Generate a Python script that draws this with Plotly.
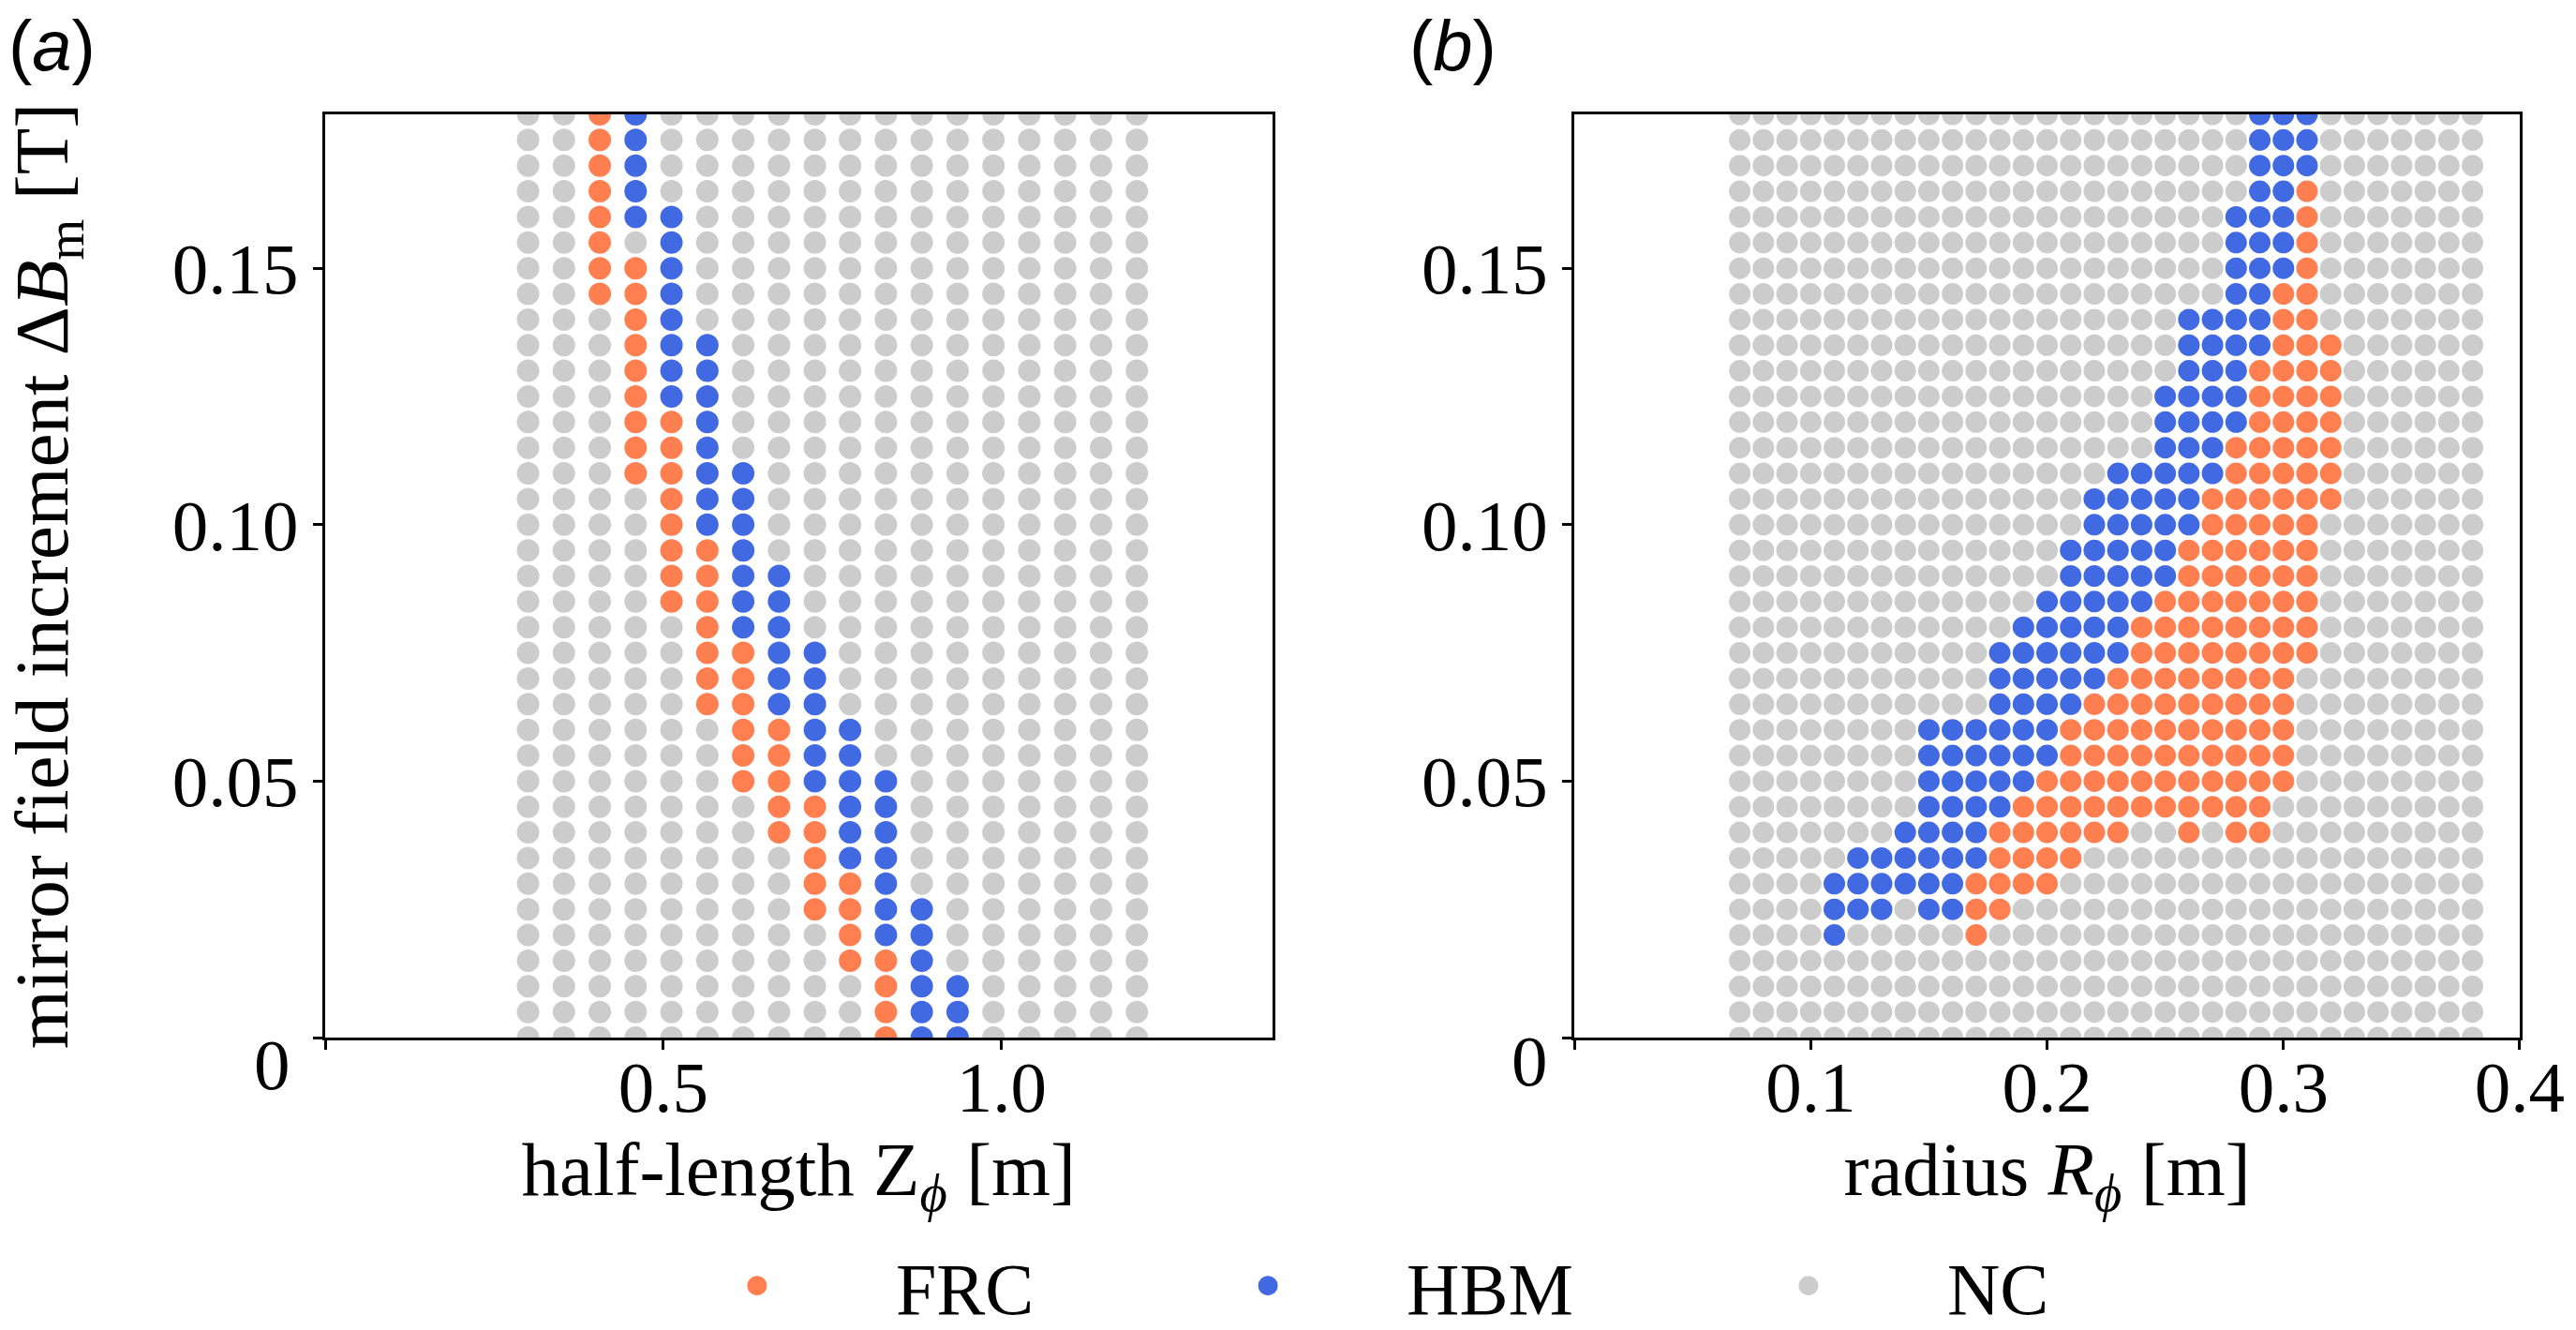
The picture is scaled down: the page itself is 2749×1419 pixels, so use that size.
import plotly.graph_objects as go

# ---------------- data ----------------
# mirror field increment Delta B_m [T], grid rows from top to bottom
DELTA_BM = [0.180, 0.175, 0.170, 0.165, 0.160, 0.155, 0.150, 0.145, 0.140, 0.135,
            0.130, 0.125, 0.120, 0.115, 0.110, 0.105, 0.100, 0.095, 0.090, 0.085,
            0.080, 0.075, 0.070, 0.065, 0.060, 0.055, 0.050, 0.045, 0.040, 0.035,
            0.030, 0.025, 0.020, 0.015, 0.010, 0.005, 0.000]

# panel (a): half-length Z_phi [m] grid columns
Z_PHI = [0.300, 0.353, 0.406, 0.459, 0.512, 0.565, 0.618, 0.671, 0.724,
         0.776, 0.829, 0.882, 0.935, 0.988, 1.041, 1.094, 1.147, 1.200]

# panel (b): radius R_phi [m] grid columns
R_PHI = [0.07, 0.08, 0.09, 0.10, 0.11, 0.12, 0.13, 0.14, 0.15, 0.16, 0.17,
         0.18, 0.19, 0.20, 0.21, 0.22, 0.23, 0.24, 0.25, 0.26, 0.27, 0.28,
         0.29, 0.30, 0.31, 0.32, 0.33, 0.34, 0.35, 0.36, 0.37, 0.38]

# phase of each grid point: F = FRC, H = HBM, N = NC (rows follow DELTA_BM)
PHASE_A = [
    "NNFHNNNNNN NNNNNNNN",  # 0.180
    "NNFHNNNNNN NNNNNNNN",  # 0.175
    "NNFHNNNNNN NNNNNNNN",  # 0.170
    "NNFHNNNNNN NNNNNNNN",  # 0.165
    "NNFHHNNNNN NNNNNNNN",  # 0.160
    "NNFNHNNNNN NNNNNNNN",  # 0.155
    "NNFFHNNNNN NNNNNNNN",  # 0.150
    "NNFFHNNNNN NNNNNNNN",  # 0.145
    "NNNFHNNNNN NNNNNNNN",  # 0.140
    "NNNFHHNNNN NNNNNNNN",  # 0.135
    "NNNFHHNNNN NNNNNNNN",  # 0.130
    "NNNFHHNNNN NNNNNNNN",  # 0.125
    "NNNFFHNNNN NNNNNNNN",  # 0.120
    "NNNFFHNNNN NNNNNNNN",  # 0.115
    "NNNFFHHNNN NNNNNNNN",  # 0.110
    "NNNNFHHNNN NNNNNNNN",  # 0.105
    "NNNNFHHNNN NNNNNNNN",  # 0.100
    "NNNNFFHNNN NNNNNNNN",  # 0.095
    "NNNNFFHHNN NNNNNNNN",  # 0.090
    "NNNNFFHHNN NNNNNNNN",  # 0.085
    "NNNNNFHHNN NNNNNNNN",  # 0.080
    "NNNNNFFHHN NNNNNNNN",  # 0.075
    "NNNNNFFHHN NNNNNNNN",  # 0.070
    "NNNNNFFHHN NNNNNNNN",  # 0.065
    "NNNNNNFFHH NNNNNNNN",  # 0.060
    "NNNNNNFFHH NNNNNNNN",  # 0.055
    "NNNNNNFFHH HNNNNNNN",  # 0.050
    "NNNNNNNFFH HNNNNNNN",  # 0.045
    "NNNNNNNFFH HNNNNNNN",  # 0.040
    "NNNNNNNNFH HNNNNNNN",  # 0.035
    "NNNNNNNNFF HNNNNNNN",  # 0.030
    "NNNNNNNNFF HHNNNNNN",  # 0.025
    "NNNNNNNNNF HHNNNNNN",  # 0.020
    "NNNNNNNNNF FHNNNNNN",  # 0.015
    "NNNNNNNNNN FHHNNNNN",  # 0.010
    "NNNNNNNNNN FHHNNNNN",  # 0.005
    "NNNNNNNNNN FHHNNNNN",  # 0.000
]

PHASE_B = [
    "NNNNNNNNNN NNNNNNNNNN NNHHHNNNNN NN",  # 0.180
    "NNNNNNNNNN NNNNNNNNNN NNHHHNNNNN NN",  # 0.175
    "NNNNNNNNNN NNNNNNNNNN NNHHHNNNNN NN",  # 0.170
    "NNNNNNNNNN NNNNNNNNNN NNHHFNNNNN NN",  # 0.165
    "NNNNNNNNNN NNNNNNNNNN NHHHFNNNNN NN",  # 0.160
    "NNNNNNNNNN NNNNNNNNNN NHHHFNNNNN NN",  # 0.155
    "NNNNNNNNNN NNNNNNNNNN NHHHFNNNNN NN",  # 0.150
    "NNNNNNNNNN NNNNNNNNNN NHHFFNNNNN NN",  # 0.145
    "NNNNNNNNNN NNNNNNNNNH HHHFFNNNNN NN",  # 0.140
    "NNNNNNNNNN NNNNNNNNNH HHHFFFNNNN NN",  # 0.135
    "NNNNNNNNNN NNNNNNNNNH HHFFFFNNNN NN",  # 0.130
    "NNNNNNNNNN NNNNNNNNHH HHFFFFNNNN NN",  # 0.125
    "NNNNNNNNNN NNNNNNNNHH HHFFFFNNNN NN",  # 0.120
    "NNNNNNNNNN NNNNNNNNHH HFFFFFNNNN NN",  # 0.115
    "NNNNNNNNNN NNNNNNHHHH HFFFFFNNNN NN",  # 0.110
    "NNNNNNNNNN NNNNNHHHHH FFFFFFNNNN NN",  # 0.105
    "NNNNNNNNNN NNNNNHHHHH FFFFFNNNNN NN",  # 0.100
    "NNNNNNNNNN NNNNHHHHHF FFFFFNNNNN NN",  # 0.095
    "NNNNNNNNNN NNNNHHHHHF FFFFFNNNNN NN",  # 0.090
    "NNNNNNNNNN NNNHHHHHFF FFFFFNNNNN NN",  # 0.085
    "NNNNNNNNNN NNHHHHHFFF FFFFFNNNNN NN",  # 0.080
    "NNNNNNNNNN NHHHHHHFFF FFFFFNNNNN NN",  # 0.075
    "NNNNNNNNNN NHHHHHFFFF FFFFNNNNNN NN",  # 0.070
    "NNNNNNNNNN NHHHHFFFFF FFFFNNNNNN NN",  # 0.065
    "NNNNNNNNHH HHHHFFFFFF FFFFNNNNNN NN",  # 0.060
    "NNNNNNNNHH HHHHFFFFFF FFFFNNNNNN NN",  # 0.055
    "NNNNNNNNHH HHHFFFFFFF FFFFNNNNNN NN",  # 0.050
    "NNNNNNNNHH HHFFFFFFFF FFFNNNNNNN NN",  # 0.045
    "NNNNNNNHHH HFFFFFFNNF NFFNNNNNNN NN",  # 0.040
    "NNNNNHHHHH HFFFFNNNNN NNNNNNNNNN NN",  # 0.035
    "NNNNHHHHHH FFFFNNNNNN NNNNNNNNNN NN",  # 0.030
    "NNNNHHHNHH FFNNNNNNNN NNNNNNNNNN NN",  # 0.025
    "NNNNHNNNNN FNNNNNNNNN NNNNNNNNNN NN",  # 0.020
    "NNNNNNNNNN NNNNNNNNNN NNNNNNNNNN NN",  # 0.015
    "NNNNNNNNNN NNNNNNNNNN NNNNNNNNNN NN",  # 0.010
    "NNNNNNNNNN NNNNNNNNNN NNNNNNNNNN NN",  # 0.005
    "NNNNNNNNNN NNNNNNNNNN NNNNNNNNNN NN",  # 0.000
]

CATEGORIES = ["FRC", "HBM", "NC"]
CODES = {"F": "FRC", "H": "HBM", "N": "NC"}
COLORS = {"FRC": "#FF7F50", "HBM": "#4169E1", "NC": "#CCCCCC"}
LEGEND_IDS = {"FRC": "legend", "HBM": "legend2", "NC": "legend3"}

X_TICKS_A = [0.5, 1.0]
X_TICKTEXT_A = ["0.5", "1.0"]
X_TICKS_B = [0.1, 0.2, 0.3, 0.4]
X_TICKTEXT_B = ["0.1", "0.2", "0.3", "0.4"]
Y_TICKS = [0.05, 0.10, 0.15]
Y_TICKTEXT = ["0.05", "0.10", "0.15"]
ORIGIN_TICK = [0]


def split_points(grid, cols):
    pts = {c: ([], []) for c in CATEGORIES}
    for yv, row in zip(DELTA_BM, grid):
        row = row.replace(" ", "")
        assert len(row) == len(cols), (yv, len(row))
        for xv, ch in zip(cols, row):
            cat = CODES[ch]
            pts[cat][0].append(xv)
            pts[cat][1].append(yv)
    return pts


FONT = "Liberation Serif, Times New Roman, serif"

fig = go.Figure()

pts_a = split_points(PHASE_A, Z_PHI)
pts_b = split_points(PHASE_B, R_PHI)

for cat in CATEGORIES:
    fig.add_trace(go.Scatter(
        x=pts_a[cat][0], y=pts_a[cat][1], mode="markers", name=cat,
        marker=dict(size=19, color=COLORS[cat], line=dict(width=5, color=COLORS[cat])),
        xaxis="x", yaxis="y", legend=LEGEND_IDS[cat], showlegend=True))
for cat in CATEGORIES:
    fig.add_trace(go.Scatter(
        x=pts_b[cat][0], y=pts_b[cat][1], mode="markers", name=cat,
        marker=dict(size=23, color=COLORS[cat], line=dict(width=0)),
        xaxis="x2", yaxis="y2", showlegend=False))

axis_common = dict(
    showgrid=False, zeroline=False, showline=True, linecolor="black", linewidth=3,
    mirror=True, ticks="outside", ticklen=10, tickwidth=3, tickcolor="black",
    tickfont=dict(family=FONT, size=77, color="black"),
    minor=dict(tickvals=ORIGIN_TICK, ticks="outside", ticklen=10, tickwidth=3,
               tickcolor="black", showgrid=False),
)

W, H = 2749, 1419
L, R, T, B = 347, 60, 122, 312

legend_common = dict(
    orientation="h", yanchor="middle", y=-0.269, xanchor="left",
    font=dict(family=FONT, size=78, color="black"),
    bgcolor="rgba(0,0,0,0)", borderwidth=0, itemwidth=286,
)

fig.update_layout(
    width=W, height=H,
    margin=dict(l=L, r=R, t=T, b=B, pad=0, autoexpand=False),
    paper_bgcolor="white", plot_bgcolor="white",
    font=dict(family=FONT, color="black"),
    xaxis=dict(domain=[0, 0.4315], range=[0, 1.4], anchor="y",
               tickvals=X_TICKS_A, ticktext=X_TICKTEXT_A, ticklabelstandoff=-26,
               title=dict(text="half-length Z<sub><i>ϕ</i></sub> [m]",
                          font=dict(family=FONT, size=81), standoff=14),
               **axis_common),
    yaxis=dict(domain=[0, 1], range=[0, 0.18], anchor="x",
               tickvals=Y_TICKS, ticktext=Y_TICKTEXT,
               title=dict(text="mirror field increment Δ<i>B</i><sub>m</sub> [T]",
                          font=dict(family=FONT, size=81), standoff=88),
               **axis_common),
    xaxis2=dict(domain=[0.5692, 1], range=[0, 0.4], anchor="y2",
                tickvals=X_TICKS_B, ticktext=X_TICKTEXT_B, ticklabelstandoff=-26,
                title=dict(text="radius <i>R</i><sub><i>ϕ</i></sub> [m]",
                           font=dict(family=FONT, size=81), standoff=14),
                **axis_common),
    yaxis2=dict(domain=[0, 1], range=[0, 0.18], anchor="x2",
                tickvals=Y_TICKS, ticktext=Y_TICKTEXT,
                **axis_common),
    legend=dict(x=0.1336, **legend_common),
    legend2=dict(x=0.3664, **legend_common),
    legend3=dict(x=0.6127, **legend_common),
    annotations=[
        dict(text="(<i>a</i>)", xref="paper", yref="paper", x=-0.1243, y=1.0751,
             xanchor="center", yanchor="middle", showarrow=False,
             font=dict(family="Liberation Sans, Arial, sans-serif", size=76, color="black")),
        dict(text="(<i>b</i>)", xref="paper", yref="paper", x=0.5137, y=1.0751,
             xanchor="center", yanchor="middle", showarrow=False,
             font=dict(family="Liberation Sans, Arial, sans-serif", size=76, color="black")),
        dict(text="0", xref="paper", yref="paper", x=-0.0243, y=-0.0294,
             xanchor="center", yanchor="middle", showarrow=False,
             font=dict(family=FONT, size=77, color="black")),
        dict(text="0", xref="paper", yref="paper", x=0.5487, y=-0.0254,
             xanchor="center", yanchor="middle", showarrow=False,
             font=dict(family=FONT, size=77, color="black")),
    ],
)

fig.write_html("out.html")
